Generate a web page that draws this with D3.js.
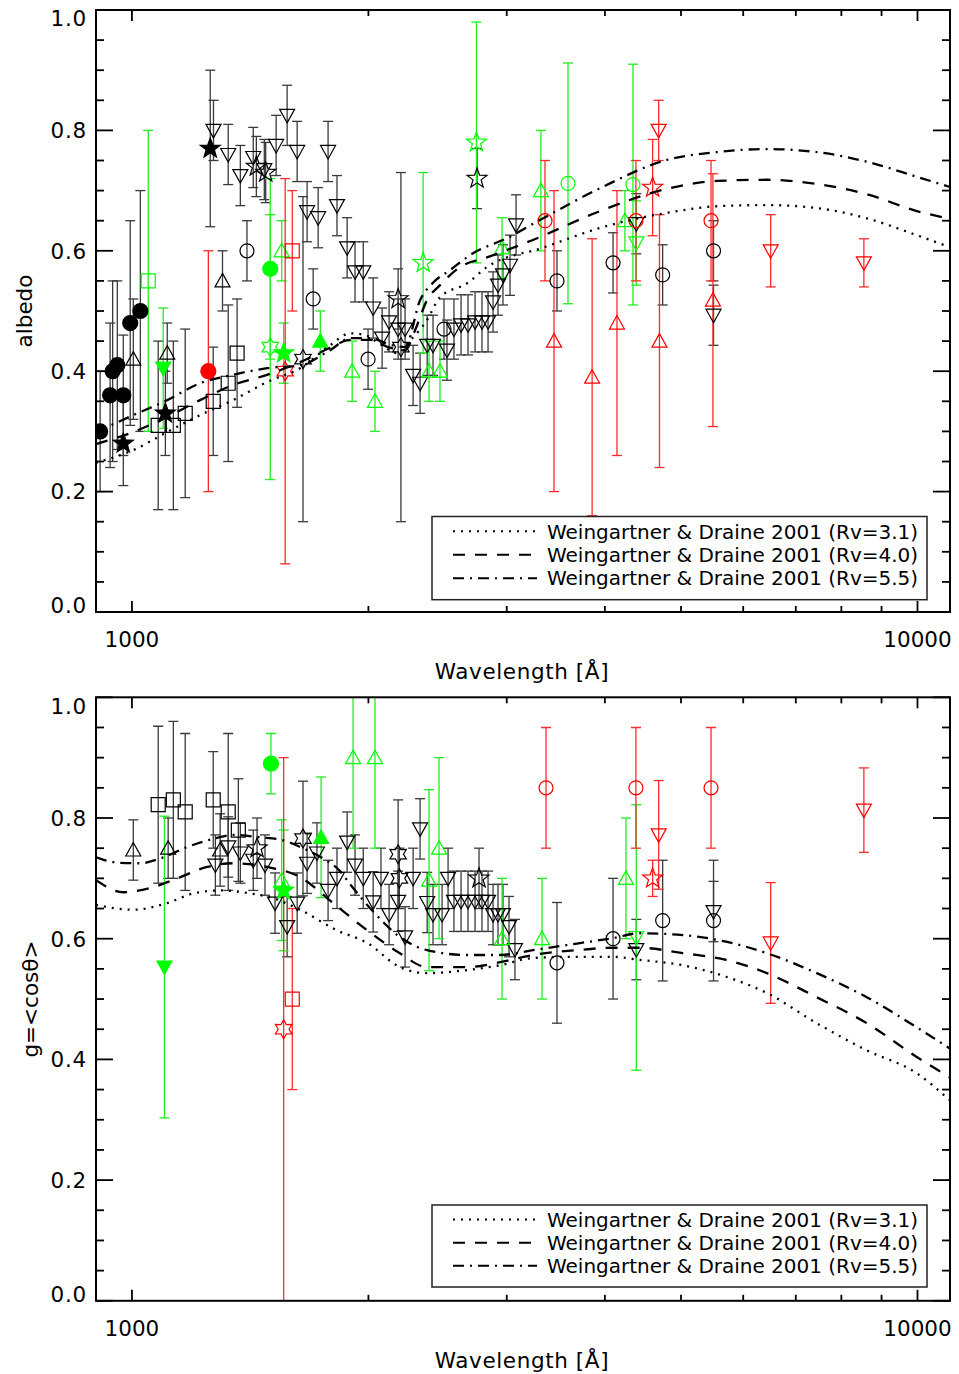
<!DOCTYPE html>
<html><head><meta charset="utf-8">
<script src="https://cdn.jsdelivr.net/npm/d3@7/dist/d3.min.js"></script>
<style>body{margin:0;background:#fff}svg{display:block}text{font-family:"DejaVu Sans",sans-serif}</style>
</head><body>
<svg id="chart" width="959" height="1374"></svg>
<script>
// ---------- axis / label data ----------
const xTickValues = [1000, 10000];
const xTickLabels = ['1000', '10000'];
const xMinorValues = [2000, 3000, 4000, 5000, 6000, 7000, 8000, 9000];
const yTickValues = [0, 0.2, 0.4, 0.6, 0.8, 1.0];
const yTickLabels = ['0.0', '0.2', '0.4', '0.6', '0.8', '1.0'];
const yMinorValues = [0.05, 0.1, 0.15, 0.25, 0.3, 0.35, 0.45, 0.5, 0.55, 0.65, 0.7, 0.75, 0.85, 0.9, 0.95];
const legendLabels = ['Weingartner & Draine 2001 (Rv=3.1)', 'Weingartner & Draine 2001 (Rv=4.0)', 'Weingartner & Draine 2001 (Rv=5.5)'];

// ---------- model curves [wavelength, value] ----------
const wd31Albedo = [[900,.248],[1004,.269],[1109,.299],[1221,.327],[1345,.352],[1486,.382],[1637,.405],[1788,.443],[1896,.463],[1981,.460],[2070,.445],[2175,.430],[2260,.451],[2375,.485],[2467,.523],[2671,.546],[2831,.573],[3335,.605],[3944,.638],[4797,.663],[5555,.674],[6430,.676],[7443,.671],[8619,.654],[9979,.626],[11000,.606]];
const wd40Albedo = [[900,.279],[1004,.299],[1109,.324],[1221,.352],[1345,.377],[1486,.394],[1637,.415],[1788,.439],[1896,.452],[2010,.452],[2131,.439],[2227,.435],[2293,.468],[2375,.518],[2467,.543],[2617,.573],[2831,.589],[3239,.618],[3944,.666],[4797,.703],[5555,.716],[6430,.718],[7443,.711],[8619,.694],[9979,.666],[11000,.653]];
const wd55Albedo = [[900,.299],[1004,.327],[1109,.352],[1221,.380],[1345,.394],[1486,.405],[1637,.410],[1788,.435],[1896,.455],[2010,.455],[2131,.444],[2227,.440],[2327,.518],[2417,.547],[2541,.568],[2718,.596],[3002,.621],[3306,.651],[3944,.704],[4797,.751],[5555,.764],[6430,.769],[7443,.764],[8619,.748],[9979,.723],[11000,.706]];
const wd31G = [[900,.656],[1004,.648],[1109,.659],[1197,.675],[1295,.680],[1414,.675],[1512,.667],[1637,.648],[1823,.614],[1993,.593],[2193,.553],[2375,.543],[2671,.548],[2941,.556],[3239,.568],[3685,.570],[4096,.570],[4426,.565],[5028,.556],[5706,.537],[6430,.510],[7443,.460],[8619,.415],[9979,.377],[11000,.332]];
const wd40G = [[900,.697],[975,.677],[1055,.684],[1142,.700],[1247,.719],[1345,.725],[1486,.719],[1637,.702],[1803,.659],[1993,.614],[2193,.576],[2375,.553],[2671,.553],[2941,.561],[3239,.573],[3685,.581],[4096,.585],[4426,.585],[5028,.576],[5706,.565],[6430,.543],[7443,.503],[8619,.460],[9979,.404],[11000,.370]];
const wd55G = [[900,.735],[960,.726],[1025,.725],[1087,.733],[1176,.752],[1284,.767],[1345,.772],[1457,.768],[1559,.763],[1637,.752],[1740,.735],[1840,.712],[1896,.690],[2028,.645],[2193,.603],[2375,.581],[2671,.573],[2941,.573],[3239,.581],[3685,.592],[4096,.601],[4426,.609],[5028,.606],[5706,.595],[6430,.576],[7443,.543],[8619,.503],[9979,.453],[11000,.418]];

// ---------- albedo measurements [wavelength, albedo, error] ----------
const albBlackFilledCircle = [[911,0.30,0.10],[938,0.36,0.12],[945,0.40,0.15],[958,0.41,0.14],[975,0.36,0.10],[995,0.48,0.17],[1025,0.50,0.20]];
const albBlackFilledStar = [[975,0.28,0.07],[1103,0.33,0.07],[1258,0.77,0.13]];
const albBlackTriUp = [[1004,0.42,0.10],[1109,0.43,0.05],[1304,0.55,0.05]];
const albBlackSquare = [[1080,0.31,0.14],[1129,0.31,0.14],[1169,0.33,0.14],[1269,0.35,0.09],[1326,0.38,0.13],[1361,0.43,0.09]];
const albBlackCircle = [[1401,0.60,0.05],[1701,0.52,0.05],[1998,0.42,0.05],[2496,0.47,0.05],[3476,0.55,0.05],[4097,0.58,0.05],[4738,0.56,0.05],[5500,0.60,0.05]];
const albBlackTriDown = [[1270,0.80,0.05],[1326,0.76,0.05],[1374,0.725,0.05],[1427,0.755,0.05],[1474,0.735,0.05],[1526,0.775,0.05],[1576,0.825,0.05],[1623,0.765,0.05],[1671,0.665,0.05],[1726,0.655,0.05],[1777,0.765,0.05],[1824,0.675,0.05],[1879,0.605,0.05],[1923,0.565,0.05],[1970,0.565,0.05],[2028,0.505,0.05],[2082,0.455,0.05],[2125,0.482,0.05],[2182,0.47,0.05],[2227,0.47,0.05],[2280,0.393,0.05],[2327,0.38,0.05],[2376,0.443,0.05],[2417,0.443,0.05],[2518,0.435,0.05],[2570,0.47,0.05],[2624,0.477,0.05],[2678,0.477,0.05],[2734,0.482,0.05],[2790,0.482,0.05],[2840,0.482,0.05],[2882,0.515,0.05],[2924,0.543,0.05],[2967,0.56,0.05],[3029,0.576,0.05],[3083,0.643,0.05],[4386,0.645,0.05],[5500,0.493,0.05]];
const albBlackStar = [[1440,0.74,0.05],[1480,0.73,0.05],[2182,0.52,0.05],[2750,0.72,0.05]];
const albBlackHexagram = [[1651,0.42,0.27],[2200,0.44,0.29]];
const albGreenSquare = [[1049,0.55,0.25]];
const albGreenFilledTriDown = [[1096,0.405,0.10]];
const albGreenFilledCircle = [[1500,0.57,0.15]];
const albGreenHexagram = [[1500,0.44,0.22]];
const albGreenTriUp = [[1551,0.60,0.05],[1907,0.40,0.05],[2039,0.35,0.05],[2389,0.40,0.05],[2467,0.40,0.05],[2959,0.605,0.05],[3316,0.70,0.10],[4242,0.65,0.05]];
const albGreenFilledStar = [[1560,0.43,0.05]];
const albGreenFilledTriUp = [[1737,0.45,0.05]];
const albGreenStar = [[2348,0.58,0.15],[2745,0.78,0.20]];
const albGreenCircle = [[3590,0.712,0.20],[4343,0.71,0.20]];
const albGreenTriDown = [[4386,0.613,0.07]];
const albRedFilledCircle = [[1251,0.40,0.20]];
const albRedHexagram = [[1567,0.40,0.32]];
const albRedSquare = [[1600,0.60,0.10]];
const albRedCircle = [[3356,0.65,0.10],[4381,0.65,0.10],[5460,0.65,0.10]];
const albRedTriUp = [[3446,0.45,0.25],[3853,0.39,0.23],[4144,0.48,0.22],[4694,0.45,0.21],[5490,0.518,0.21]];
const albRedStar = [[4601,0.705,0.08]];
const albRedTriDown = [[4683,0.80,0.05],[6503,0.60,0.06],[8546,0.58,0.04]];

// ---------- asymmetry parameter measurements [wavelength, g, error] ----------
const gBlackTriUp = [[1004,0.747,0.05],[1112,0.75,0.05],[1295,0.747,0.06]];
const gBlackSquare = [[1080,0.822,0.13],[1129,0.83,0.13],[1169,0.81,0.13],[1269,0.83,0.08],[1326,0.81,0.13],[1366,0.78,0.085]];
const gBlackTriDown = [[1277,0.722,0.05],[1326,0.752,0.05],[1374,0.742,0.05],[1427,0.73,0.05],[1477,0.722,0.05],[1521,0.659,0.05],[1576,0.62,0.05],[1623,0.659,0.05],[1671,0.725,0.05],[1720,0.742,0.05],[1777,0.68,0.05],[1824,0.70,0.05],[1879,0.76,0.05],[1923,0.722,0.05],[1970,0.70,0.05],[2028,0.661,0.05],[2075,0.70,0.05],[2125,0.64,0.05],[2182,0.662,0.05],[2227,0.603,0.05],[2280,0.70,0.05],[2327,0.782,0.05],[2376,0.66,0.05],[2417,0.64,0.05],[2482,0.64,0.05],[2526,0.70,0.05],[2570,0.662,0.05],[2624,0.662,0.05],[2678,0.662,0.05],[2734,0.662,0.05],[2790,0.662,0.05],[2840,0.662,0.05],[2882,0.64,0.05],[2924,0.64,0.05],[2967,0.64,0.05],[3020,0.62,0.05],[3073,0.582,0.05],[4386,0.582,0.05],[5500,0.645,0.05]];
const gBlackStar = [[1443,0.75,0.05],[2766,0.70,0.05]];
const gBlackHexagram = [[1651,0.766,0.095],[2182,0.74,0.09],[2190,0.70,0.05]];
const gBlackCircle = [[3476,0.56,0.10],[4097,0.60,0.10],[4738,0.63,0.10],[5500,0.63,0.10]];
const gGreenFilledTriDown = [[1100,0.553,0.25]];
const gGreenFilledCircle = [[1503,0.89,0.05]];
const gGreenTriUp = [[1551,0.697,0.10],[1912,0.90,0.15],[2039,0.90,0.15],[2389,0.697,0.15],[2460,0.75,0.15],[2959,0.60,0.10],[3327,0.60,0.10],[4255,0.70,0.10]];
const gGreenFilledStar = [[1560,0.68,0.10]];
const gGreenFilledTriUp = [[1741,0.768,0.10]];
const gGreenTriDown = [[4386,0.602,0.22]];
const gRedHexagram = [[1560,0.45,0.45]];
const gRedSquare = [[1600,0.50,0.15]];
const gRedCircle = [[3366,0.85,0.10],[4381,0.85,0.10],[5460,0.85,0.10]];
const gRedStar = [[4601,0.70,0.03]];
const gRedTriDown = [[4683,0.772,0.09],[6503,0.593,0.10],[8546,0.813,0.07]];

// ---------- styles ----------
const BLACK = '#000', GREEN = '#00ff00', RED = '#ff0000';
const barColor = {'#000': '#3a3a3a', '#00ff00': '#22ee22', '#ff0000': '#ff2a2a'};
const albedoSeries = [
  {data: albBlackSquare, sym: 'square', color: BLACK, fill: false},
  {data: albBlackTriUp, sym: 'triUp', color: BLACK, fill: false},
  {data: albBlackCircle, sym: 'circle', color: BLACK, fill: false},
  {data: albBlackTriDown, sym: 'triDown', color: BLACK, fill: false},
  {data: albBlackStar, sym: 'star5', color: BLACK, fill: false},
  {data: albBlackHexagram, sym: 'star6', color: BLACK, fill: false},
  {data: albBlackFilledCircle, sym: 'circle', color: BLACK, fill: true},
  {data: albBlackFilledStar, sym: 'star5', color: BLACK, fill: true},
  {data: albGreenSquare, sym: 'square', color: GREEN, fill: false},
  {data: albGreenFilledTriDown, sym: 'triDown', color: GREEN, fill: true},
  {data: albGreenFilledCircle, sym: 'circle', color: GREEN, fill: true},
  {data: albGreenHexagram, sym: 'star6', color: GREEN, fill: false},
  {data: albGreenTriUp, sym: 'triUp', color: GREEN, fill: false},
  {data: albGreenFilledStar, sym: 'star5', color: GREEN, fill: true},
  {data: albGreenFilledTriUp, sym: 'triUp', color: GREEN, fill: true},
  {data: albGreenStar, sym: 'star5', color: GREEN, fill: false},
  {data: albGreenCircle, sym: 'circle', color: GREEN, fill: false},
  {data: albGreenTriDown, sym: 'triDown', color: GREEN, fill: false},
  {data: albRedFilledCircle, sym: 'circle', color: RED, fill: true},
  {data: albRedHexagram, sym: 'star6', color: RED, fill: false},
  {data: albRedSquare, sym: 'square', color: RED, fill: false},
  {data: albRedCircle, sym: 'circle', color: RED, fill: false},
  {data: albRedTriUp, sym: 'triUp', color: RED, fill: false},
  {data: albRedStar, sym: 'star5', color: RED, fill: false},
  {data: albRedTriDown, sym: 'triDown', color: RED, fill: false}
];
const gSeries = [
  {data: gBlackSquare, sym: 'square', color: BLACK, fill: false},
  {data: gBlackTriUp, sym: 'triUp', color: BLACK, fill: false},
  {data: gBlackTriDown, sym: 'triDown', color: BLACK, fill: false},
  {data: gBlackStar, sym: 'star5', color: BLACK, fill: false},
  {data: gBlackHexagram, sym: 'star6', color: BLACK, fill: false},
  {data: gBlackCircle, sym: 'circle', color: BLACK, fill: false},
  {data: gGreenFilledTriDown, sym: 'triDown', color: GREEN, fill: true},
  {data: gGreenFilledCircle, sym: 'circle', color: GREEN, fill: true},
  {data: gGreenTriUp, sym: 'triUp', color: GREEN, fill: false},
  {data: gGreenFilledStar, sym: 'star5', color: GREEN, fill: true},
  {data: gGreenFilledTriUp, sym: 'triUp', color: GREEN, fill: true},
  {data: gGreenTriDown, sym: 'triDown', color: GREEN, fill: false},
  {data: gRedHexagram, sym: 'star6', color: RED, fill: false},
  {data: gRedSquare, sym: 'square', color: RED, fill: false},
  {data: gRedCircle, sym: 'circle', color: RED, fill: false},
  {data: gRedStar, sym: 'star5', color: RED, fill: false},
  {data: gRedTriDown, sym: 'triDown', color: RED, fill: false}
];
const curveDash = ['2,6', '12,10', '11,6,2,6'];

function starPath(n, R, r) {
  let p = '';
  for (let i = 0; i < 2 * n; i++) {
    const a = -Math.PI / 2 + i * Math.PI / n;
    const rad = i % 2 === 0 ? R : r;
    p += (i ? 'L' : 'M') + (rad * Math.cos(a)).toFixed(2) + ',' + (rad * Math.sin(a)).toFixed(2);
  }
  return p + 'Z';
}
const symbolPaths = {
  square: 'M-7,-7H7V7H-7Z',
  triUp: 'M0,-7.5L7.5,6L-7.5,6Z',
  triDown: 'M0,7.5L7.5,-6L-7.5,-6Z',
  star5: starPath(5, 10.5, 4.3),
  star6: starPath(6, 9.5, 5.4)
};

const svg = d3.select('#chart');
const X0 = 96, X1 = 950;
const x = d3.scaleLog().domain([900, 11000]).range([X0, X1]);

const panels = [
  {id: 'a', top: 10, bottom: 612, title: 'albedo', titleX: 32, series: albedoSeries,
   curves: [wd31Albedo, wd40Albedo, wd55Albedo], legendTop: 516.5, legendBottom: 599.7},
  {id: 'g', top: 697.3, bottom: 1300.8, title: 'g=<cosθ>', titleX: 38, series: gSeries,
   curves: [wd31G, wd40G, wd55G], legendTop: 1205, legendBottom: 1287}
];

panels.forEach(p => {
  const y = d3.scaleLinear().domain([0, 1]).range([p.bottom, p.top]);
  const clipId = 'clip-' + p.id;
  svg.append('clipPath').attr('id', clipId).append('rect')
    .attr('x', X0).attr('y', p.top).attr('width', X1 - X0).attr('height', p.bottom - p.top);
  const plot = svg.append('g').attr('clip-path', `url(#${clipId})`);

  // error bars
  p.series.forEach(s => {
    const g = plot.append('g').attr('stroke', barColor[s.color]).attr('stroke-width', 1.3).attr('fill', 'none');
    s.data.forEach(d => {
      const cx = x(d[0]), y1 = y(d[1] + d[2]), y2 = y(d[1] - d[2]);
      g.append('line').attr('x1', cx).attr('x2', cx).attr('y1', y1).attr('y2', y2);
      g.append('line').attr('x1', cx - 5).attr('x2', cx + 5).attr('y1', y1).attr('y2', y1);
      g.append('line').attr('x1', cx - 5).attr('x2', cx + 5).attr('y1', y2).attr('y2', y2);
    });
  });
  // markers
  p.series.forEach(s => {
    const g = plot.append('g');
    s.data.forEach(d => {
      const cx = x(d[0]), cy = y(d[1]);
      if (s.sym === 'circle') {
        g.append('circle').attr('cx', cx).attr('cy', cy).attr('r', s.fill ? 7.5 : 7)
          .attr('fill', s.fill ? s.color : 'none').attr('stroke', s.color).attr('stroke-width', 1.2);
      } else {
        g.append('path').attr('d', symbolPaths[s.sym]).attr('transform', `translate(${cx},${cy})`)
          .attr('fill', s.fill ? s.color : 'none').attr('stroke', s.color).attr('stroke-width', 1.2)
          .attr('stroke-linejoin', 'miter');
      }
    });
  });
  // model curves
  const line = d3.line().x(d => x(d[0])).y(d => y(d[1])).curve(d3.curveMonotoneX);
  p.curves.forEach((c, i) => {
    plot.append('path').datum(c).attr('d', line).attr('fill', 'none').attr('stroke', '#000')
      .attr('stroke-width', 2.3).attr('stroke-dasharray', curveDash[i]);
  });

  // frame
  svg.append('rect').attr('x', X0).attr('y', p.top).attr('width', X1 - X0).attr('height', p.bottom - p.top)
    .attr('fill', 'none').attr('stroke', '#000').attr('stroke-width', 2);

  // ticks (inward on all four sides)
  const tk = svg.append('g').attr('stroke', '#000').attr('stroke-width', 1.8);
  xTickValues.forEach(v => {
    tk.append('line').attr('x1', x(v)).attr('x2', x(v)).attr('y1', p.bottom).attr('y2', p.bottom - 11);
    tk.append('line').attr('x1', x(v)).attr('x2', x(v)).attr('y1', p.top).attr('y2', p.top + 11);
  });
  xMinorValues.forEach(v => {
    tk.append('line').attr('x1', x(v)).attr('x2', x(v)).attr('y1', p.bottom).attr('y2', p.bottom - 6);
    tk.append('line').attr('x1', x(v)).attr('x2', x(v)).attr('y1', p.top).attr('y2', p.top + 6);
  });
  yTickValues.forEach(v => {
    tk.append('line').attr('x1', X0).attr('x2', X0 + 17).attr('y1', y(v)).attr('y2', y(v));
    tk.append('line').attr('x1', X1).attr('x2', X1 - 17).attr('y1', y(v)).attr('y2', y(v));
  });
  yMinorValues.forEach(v => {
    tk.append('line').attr('x1', X0).attr('x2', X0 + 8).attr('y1', y(v)).attr('y2', y(v));
    tk.append('line').attr('x1', X1).attr('x2', X1 - 8).attr('y1', y(v)).attr('y2', y(v));
  });

  // tick labels
  xTickValues.forEach((v, i) => {
    svg.append('text').attr('x', x(v)).attr('y', p.bottom + 35).attr('text-anchor', 'middle')
      .attr('font-size', 21.5).attr('fill', '#000').text(xTickLabels[i]);
  });
  yTickValues.forEach((v, i) => {
    const cy = Math.min(Math.max(y(v), p.top + 8.5), p.bottom - 7);
    svg.append('text').attr('x', X0 - 9).attr('y', cy + 7.8).attr('text-anchor', 'end')
      .attr('font-size', 21.5).attr('letter-spacing', 0.8).attr('fill', '#000').text(yTickLabels[i]);
  });

  // axis titles
  svg.append('text').attr('x', 522).attr('y', p.bottom + 67).attr('text-anchor', 'middle')
    .attr('font-size', 21.5).attr('letter-spacing', 0.6).attr('fill', '#000').text('Wavelength [Å]');
  svg.append('text').attr('transform', `translate(${p.titleX},${(p.top + p.bottom) / 2})rotate(-90)`)
    .attr('text-anchor', 'middle').attr('font-size', 21.5).attr('fill', '#000').text(p.title);

  // legend
  const lg = svg.append('g');
  lg.append('rect').attr('x', 432).attr('y', p.legendTop).attr('width', 495).attr('height', p.legendBottom - p.legendTop)
    .attr('fill', '#fff').attr('stroke', '#222').attr('stroke-width', 1.5);
  const rowH = (p.legendBottom - p.legendTop) / 3.55;
  legendLabels.forEach((lab, i) => {
    const cy = p.legendTop + rowH * (0.63 + i);
    lg.append('line').attr('x1', 453).attr('x2', 537).attr('y1', cy).attr('y2', cy)
      .attr('stroke', '#000').attr('stroke-width', 2).attr('stroke-dasharray', curveDash[i]);
    lg.append('text').attr('x', 547).attr('y', cy + 7.3).attr('font-size', 20).attr('fill', '#000')
      .attr('textLength', 371).attr('lengthAdjust', 'spacing').text(lab);
  });
});
</script>
</body></html>
